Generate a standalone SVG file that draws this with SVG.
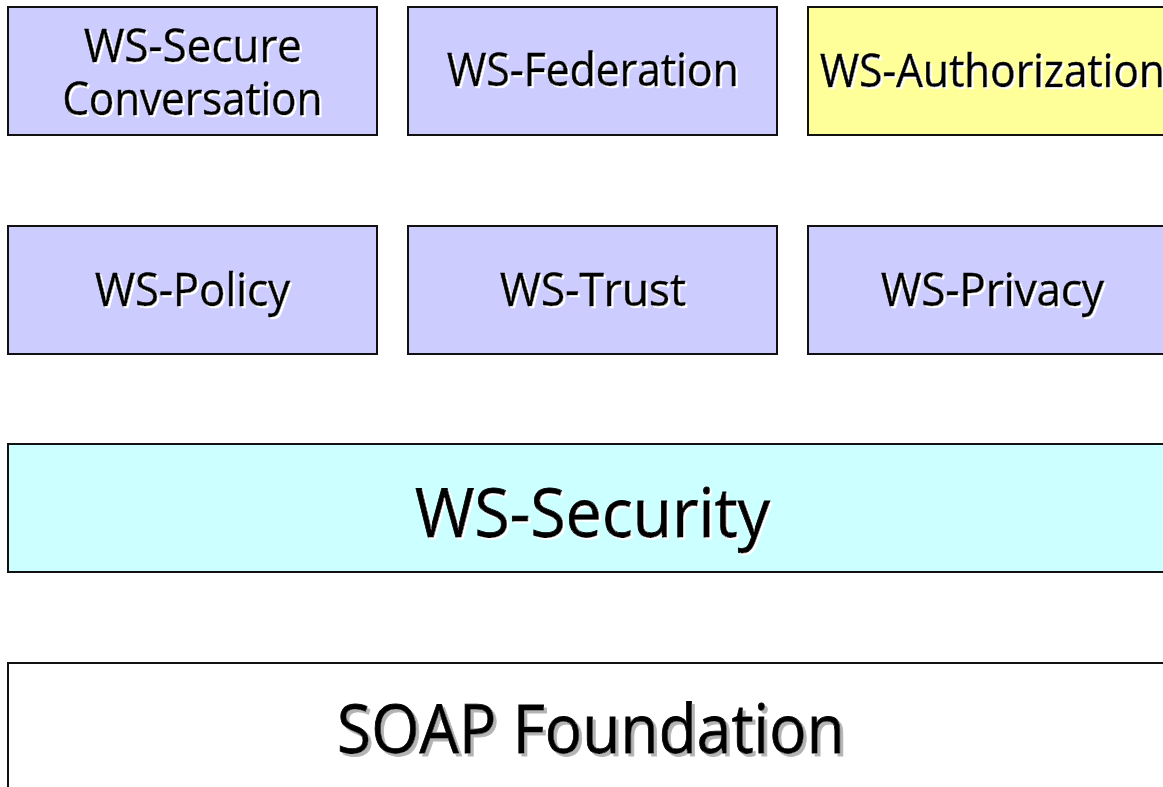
<svg xmlns="http://www.w3.org/2000/svg" width="1163" height="787" viewBox="0 0 1163 787">
  <defs>
    <!-- light offset shadow behind labels on tinted boxes -->
    <filter id="shadowLight" x="-5%" y="-20%" width="110%" height="140%">
      <feFlood flood-color="#ffffff" result="c"/>
      <feComposite in="c" in2="SourceAlpha" operator="in" result="s"/>
      <feOffset in="s" dx="2" dy="2" result="o"/>
      <feMerge><feMergeNode in="o"/><feMergeNode in="SourceGraphic"/></feMerge>
    </filter>
    <!-- grey offset shadow behind labels on white boxes -->
    <filter id="shadowGrey" x="-5%" y="-20%" width="110%" height="140%">
      <feFlood flood-color="#b4b4b4" result="c"/>
      <feComposite in="c" in2="SourceAlpha" operator="in" result="s"/>
      <feOffset in="s" dx="3" dy="3" result="o"/>
      <feMerge><feMergeNode in="o"/><feMergeNode in="SourceGraphic"/></feMerge>
    </filter>
  </defs>
  <style>
    .box { stroke: #111; stroke-width: 2; }
    .lav { fill: #ccccff; }
    .yel { fill: #ffff99; }
    .cyn { fill: #ccffff; }
    .wht { fill: #ffffff; }
    .lbl { font-family: "Open Sans", "DejaVu Sans", sans-serif; text-anchor: middle; fill: #000; stroke: #000; stroke-width: 0.6; }
    .sh { filter: url(#shadowLight); }
    .shg { filter: url(#shadowGrey); }
    .sm { font-size: 45px; }
    .lg { font-size: 68px; stroke-width: 0.8; }
  </style>
  <rect width="1163" height="787" fill="#ffffff"/>

  <g id="ws-secure-conversation">
    <rect class="box lav" x="8" y="7" width="369" height="128"/>
    <text class="lbl sm sh"><tspan x="193" y="62" textLength="218" lengthAdjust="spacingAndGlyphs">WS-Secure</tspan><tspan x="192.5" y="115" textLength="260" lengthAdjust="spacingAndGlyphs">Conversation</tspan></text>
  </g>

  <g id="ws-federation">
    <rect class="box lav" x="408" y="7" width="369" height="128"/>
    <text class="lbl sm sh" x="593" y="86" textLength="292" lengthAdjust="spacingAndGlyphs">WS-Federation</text>
  </g>

  <g id="ws-authorization">
    <rect class="box yel" x="808" y="7" width="369" height="128"/>
    <text class="lbl sm sh" x="992.5" y="87" textLength="345" lengthAdjust="spacingAndGlyphs">WS-Authorization</text>
  </g>

  <g id="ws-policy">
    <rect class="box lav" x="8" y="226" width="369" height="128"/>
    <text class="lbl sm sh" x="192.5" y="306" textLength="195" lengthAdjust="spacingAndGlyphs">WS-Policy</text>
  </g>

  <g id="ws-trust">
    <rect class="box lav" x="408" y="226" width="369" height="128"/>
    <text class="lbl sm sh" x="593" y="306" textLength="186" lengthAdjust="spacingAndGlyphs">WS-Trust</text>
  </g>

  <g id="ws-privacy">
    <rect class="box lav" x="808" y="226" width="369" height="128"/>
    <text class="lbl sm sh" x="992.5" y="306" textLength="223" lengthAdjust="spacingAndGlyphs">WS-Privacy</text>
  </g>

  <g id="ws-security">
    <rect class="box cyn" x="8" y="444" width="1169" height="128"/>
    <text class="lbl lg sh" x="592.5" y="537" textLength="355" lengthAdjust="spacingAndGlyphs">WS-Security</text>
  </g>

  <g id="soap-foundation">
    <rect class="box wht" x="8" y="663" width="1169" height="140"/>
    <text class="lbl lg shg" x="591" y="753" textLength="508" lengthAdjust="spacingAndGlyphs">SOAP Foundation</text>
  </g>

  <g id="connectors"></g>
</svg>
